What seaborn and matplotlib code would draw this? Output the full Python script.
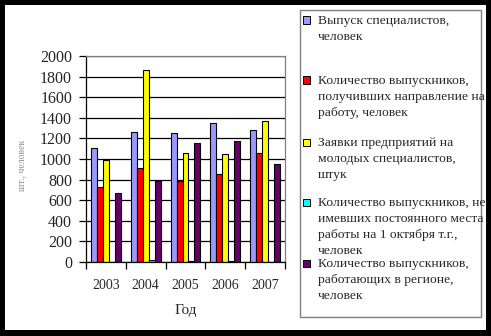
import matplotlib
matplotlib.use("Agg")
import matplotlib.pyplot as plt
from matplotlib.patches import Rectangle
import seaborn as sns
import pandas as pd

years = ["2003", "2004", "2005", "2006", "2007"]
series_labels = [
    "Выпуск специалистов,\nчеловек",
    "Количество выпускников,\nполучивших направление на\nработу, человек",
    "Заявки предприятий на\nмолодых специалистов,\nштук",
    "Количество выпускников, не\nимевших постоянного места\nработы на 1 октября т.г.,\nчеловек",
    "Количество выпускников,\nработающих в регионе,\nчеловек",
]
graduates = [1110, 1260, 1250, 1350, 1280]
directed = [730, 910, 790, 850, 1060]
requests = [990, 1860, 1060, 1050, 1370]
unemployed = [0, 20, 8, 6, 0]
in_region = [670, 790, 1160, 1170, 950]
colors = ["#9999FF", "#FF0000", "#FFFF00", "#00FFFF", "#660066"]
y_ticks = [0, 200, 400, 600, 800, 1000, 1200, 1400, 1600, 1800, 2000]
y_label = "шт., человек"
x_label = "Год"

all_values = [graduates, directed, requests, unemployed, in_region]
rows = []
for lab, vals in zip(series_labels, all_values):
    for y, v in zip(years, vals):
        rows.append({"year": y, "value": v, "series": lab})
df = pd.DataFrame(rows)

sns.set_style("white")
plt.rcParams["font.family"] = ["Liberation Serif", "DejaVu Serif"]

W, H = 491, 336
fig = plt.figure(figsize=(W / 100, H / 100), dpi=100, facecolor="black")
fig.patches.append(Rectangle((5 / W, 6 / H), 481 / W, 325 / H, transform=fig.transFigure,
                             facecolor="white", edgecolor="none", zorder=-5))

ax = fig.add_axes([86 / W, (H - 262) / H, (285 - 86) / W, (262 - 56) / H])
ax.set_zorder(2)
ax.set_facecolor("white")
sns.barplot(data=df, x="year", y="value", hue="series", palette=colors,
            hue_order=series_labels, order=years, width=0.75,
            edgecolor="black", linewidth=0.8, saturation=1, legend=False, ax=ax)
ax.set_xlim(-0.5, 4.5)
ax.set_ylim(0, 2000)
ax.set_yticks(y_ticks)
ax.set_yticklabels([str(t) for t in y_ticks], fontsize=11.5)
ax.yaxis.grid(True, color="black", linewidth=0.9)
ax.set_axisbelow(True)
ax.tick_params(axis="y", direction="out", length=5, width=0.9, color="black", pad=5, left=True)
ax.set_xticks(range(len(years)))
ax.set_xticklabels(years, fontsize=10)
ax.tick_params(axis="x", which="major", length=0, pad=12)
ax.set_xticks([i - 0.5 for i in range(len(years) + 1)], minor=True)
ax.tick_params(axis="x", which="minor", direction="out", length=5, width=0.9, color="black", bottom=True)
for s in ["top", "right"]:
    ax.spines[s].set_color("#808080")
    ax.spines[s].set_linewidth(0.9)
for s in ["left", "bottom"]:
    ax.spines[s].set_color("black")
    ax.spines[s].set_linewidth(0.9)
ax.set_xlabel(x_label, fontsize=11, labelpad=9)
ax.set_ylabel("")
fig.text(22 / W, 1 - 165 / H, y_label, rotation=90, fontsize=7, color="#909090",
         ha="center", va="center")

# legend box
fig.patches.append(Rectangle((300 / W, (H - 317) / H), 181 / W, 307 / H, transform=fig.transFigure,
                             facecolor="white", edgecolor="#808080", linewidth=1, zorder=1))
first_line = [20, 80, 142, 202, 263]
for lab, col, yc in zip(series_labels, colors, first_line):
    fig.patches.append(Rectangle((303 / W, (H - yc - 3.5) / H), 7 / W, 7 / H,
                                 transform=fig.transFigure, facecolor=col,
                                 edgecolor="black", linewidth=0.7, zorder=2))
    fig.text(318 / W, (H - yc + 5) / H, lab, fontsize=9.7, va="top", ha="left",
             linespacing=1.45, zorder=3)

fig.savefig("out.png", dpi=100, facecolor="black")
